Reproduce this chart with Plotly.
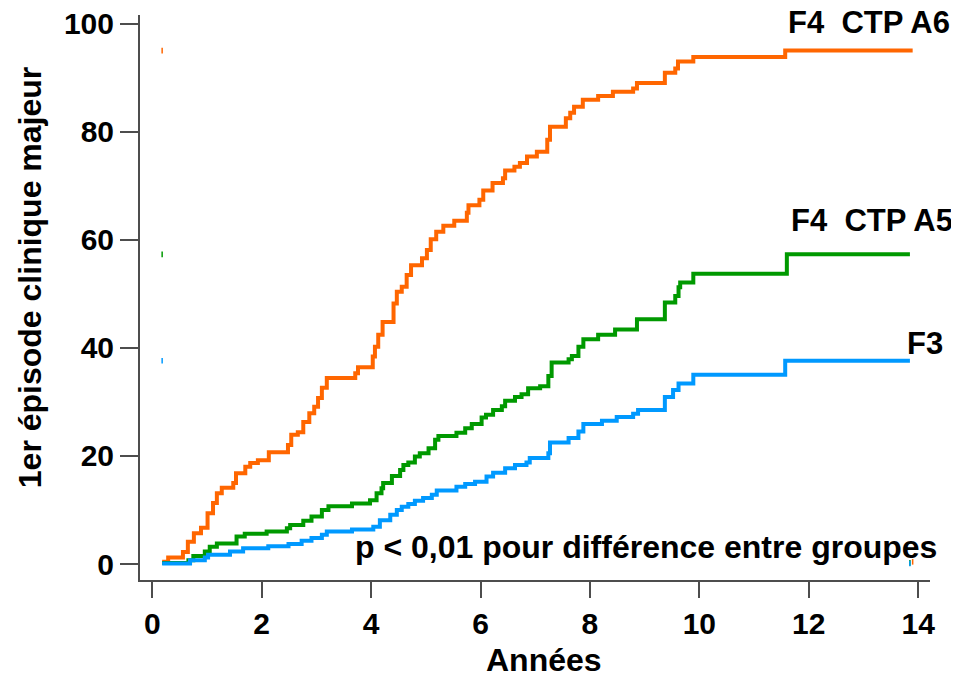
import plotly.graph_objects as go

# ---- data (years, cumulative % of first major clinical event) ----
t_a6 = [0.18, 0.29, 0.56, 0.65, 0.76, 0.89, 1.01, 1.11, 1.18, 1.27, 1.48, 1.53, 1.70, 1.79, 1.93,
        2.13, 2.48, 2.54, 2.66, 2.76, 2.87, 2.96, 3.03, 3.10, 3.19, 3.71, 3.76, 4.03, 4.07, 4.13,
        4.21, 4.41, 4.47, 4.56, 4.65, 4.73, 4.93, 5.02, 5.09, 5.19, 5.32, 5.52, 5.75, 5.78, 5.98,
        6.05, 6.22, 6.41, 6.45, 6.62, 6.72, 6.85, 7.03, 7.22, 7.27, 7.56, 7.64, 7.71, 7.87, 8.15,
        8.42, 8.79, 8.86, 9.37, 9.56, 9.61, 9.89, 11.57, 13.90]
v_a6 = [0.4, 1.2, 2.2, 4.1, 5.7, 6.7, 9.4, 11.3, 13.1, 14.1, 15.0, 16.8, 18.0, 18.7, 19.2,
        20.7, 22.0, 23.9, 24.4, 26.3, 27.9, 29.1, 30.7, 32.6, 34.4, 35.3, 36.4, 38.4, 40.2, 42.4,
        44.8, 48.2, 50.4, 51.3, 53.5, 55.3, 56.6, 58.1, 60.1, 61.5, 62.6, 63.5, 65.0, 66.4, 67.4,
        69.1, 70.5, 71.4, 72.8, 73.5, 74.2, 75.4, 76.3, 78.5, 80.9, 82.5, 83.5, 84.6, 85.9, 86.6,
        87.4, 88.0, 89.0, 90.9, 91.7, 93.0, 93.8, 95.0, 95.0]

t_a5 = [0.18, 0.66, 0.75, 0.96, 1.05, 1.18, 1.54, 1.69, 2.09, 2.46, 2.52, 2.76, 2.91, 3.10, 3.22,
        3.65, 3.98, 4.10, 4.19, 4.22, 4.38, 4.53, 4.59, 4.68, 4.80, 4.89, 5.05, 5.17, 5.23, 5.56,
        5.72, 5.84, 6.02, 6.10, 6.23, 6.39, 6.45, 6.63, 6.75, 6.87, 7.09, 7.24, 7.30, 7.61, 7.67,
        7.79, 7.88, 8.15, 8.46, 8.86, 9.37, 9.56, 9.62, 9.65, 9.89, 11.60, 13.85]
v_a5 = [0.2, 0.7, 1.5, 2.3, 3.2, 3.8, 5.1, 5.6, 6.0, 6.6, 7.2, 8.0, 8.8, 10.0, 10.7,
        11.2, 11.8, 13.1, 14.0, 15.0, 16.3, 17.4, 18.3, 18.8, 19.9, 20.5, 21.4, 23.0, 23.7, 24.3,
        25.1, 25.9, 27.1, 27.6, 28.5, 29.2, 30.2, 30.9, 31.4, 32.5, 32.9, 34.8, 37.3, 37.9, 38.5,
        40.2, 41.6, 42.4, 43.4, 45.3, 48.4, 49.6, 51.2, 52.1, 53.7, 57.3, 57.3]

t_f3 = [0.18, 0.69, 0.96, 1.02, 1.42, 1.66, 2.12, 2.49, 2.73, 2.91, 3.10, 3.19, 3.65, 4.04, 4.16,
        4.35, 4.47, 4.56, 4.68, 4.80, 4.95, 5.11, 5.20, 5.56, 5.72, 5.90, 6.11, 6.23, 6.45, 6.63,
        6.84, 6.90, 7.24, 7.27, 7.61, 7.79, 7.88, 8.22, 8.49, 8.79, 8.88, 9.37, 9.52, 9.62, 9.89,
        11.57, 13.85]
v_f3 = [0.1, 0.7, 1.2, 1.7, 2.3, 2.9, 3.3, 3.7, 4.3, 4.8, 5.4, 6.0, 6.4, 6.9, 8.1,
        9.1, 10.0, 10.6, 11.1, 11.7, 12.2, 12.8, 13.6, 14.3, 14.8, 15.2, 16.2, 16.9, 17.7, 18.3,
        18.8, 19.6, 20.5, 22.5, 23.3, 24.5, 25.9, 26.5, 27.2, 27.8, 28.5, 30.9, 32.2, 33.4, 35.0,
        37.6, 37.6]

x_ticks = [0, 2, 4, 6, 8, 10, 12, 14]
y_ticks = [0, 20, 40, 60, 80, 100]

series = [
    ("F4  CTP A6", t_a6, v_a6, "#FF6600"),
    ("F4  CTP A5", t_a5, v_a5, "#009900"),
    ("F3", t_f3, v_f3, "#0099FF"),
]

FONT = "Liberation Sans"
AX = "#4d4d4d"

fig = go.Figure()
for name, t, v, col in series:
    fig.add_trace(go.Scatter(x=t, y=v, mode="lines", line=dict(color=col, width=4, shape="hv"),
                             name=name, showlegend=False, hoverinfo="x+y"))
    # tiny stray marks at start (final level) and end (initial level)
    fig.add_trace(go.Scatter(x=[t[0], t[-1]], y=[v[-1], v[0]], mode="markers",
                             marker=dict(symbol="line-ns", size=4, line=dict(color=col, width=1.5)),
                             showlegend=False, hoverinfo="skip"))

# page body has an 8px margin: figure is shrunk/offset so plot area lands at 140..930 x 15..580
fig.update_layout(
    width=951, height=666,
    margin=dict(l=132, r=29, t=7, b=94, autoexpand=False),
    paper_bgcolor="white", plot_bgcolor="white",
    font=dict(family=FONT, size=30, color="black"),
    showlegend=False,
)
fig.update_xaxes(range=[-0.225, 14.217], showgrid=False, zeroline=False, automargin=False,
                 showline=True, linecolor=AX, linewidth=2,
                 ticks="outside", ticklen=16, tickwidth=2, tickcolor=AX,
                 tickvals=x_ticks, ticktext=[str(v) for v in x_ticks],
                 ticklabeloverflow="allow",
                 tickfont=dict(family=FONT, size=30, color="black", weight="bold"))
fig.update_yaxes(range=[-2.96, 101.59], showgrid=False, zeroline=False, automargin=False,
                 showline=True, linecolor=AX, linewidth=2,
                 ticks="outside", ticklen=18, tickwidth=2, tickcolor=AX,
                 tickvals=y_ticks, ticktext=[str(v) for v in y_ticks],
                 ticklabeloverflow="allow",
                 tickfont=dict(family=FONT, size=30, color="black", weight="bold"))

big = dict(family=FONT, size=32, color="black", weight="bold")
lab = dict(family=FONT, size=31, color="black", weight="bold")
ann = [
    dict(text="Années", x=0.511, y=-0.1416, xanchor="center", yanchor="middle", font=big),
    dict(text="1er épisode clinique majeur", x=-0.139, y=0.5345, textangle=-90,
         xanchor="center", yanchor="middle", font=big),
    dict(text="F4\u00a0\u00a0CTP A6", x=1.0278, y=0.9876, xanchor="right", yanchor="middle", font=lab),
    dict(text="F4\u00a0\u00a0CTP A5", x=1.0316, y=0.6354, xanchor="right", yanchor="middle", font=lab),
    dict(text="F3", x=1.019, y=0.4186, xanchor="right", yanchor="middle", font=lab),
    dict(text="p < 0,01 pour différence entre groupes", x=1.012, y=0.0584,
         xanchor="right", yanchor="middle", font=big),
]
for a in ann:
    fig.add_annotation(xref="paper", yref="paper", showarrow=False, **a)

fig.write_html("out.html")
